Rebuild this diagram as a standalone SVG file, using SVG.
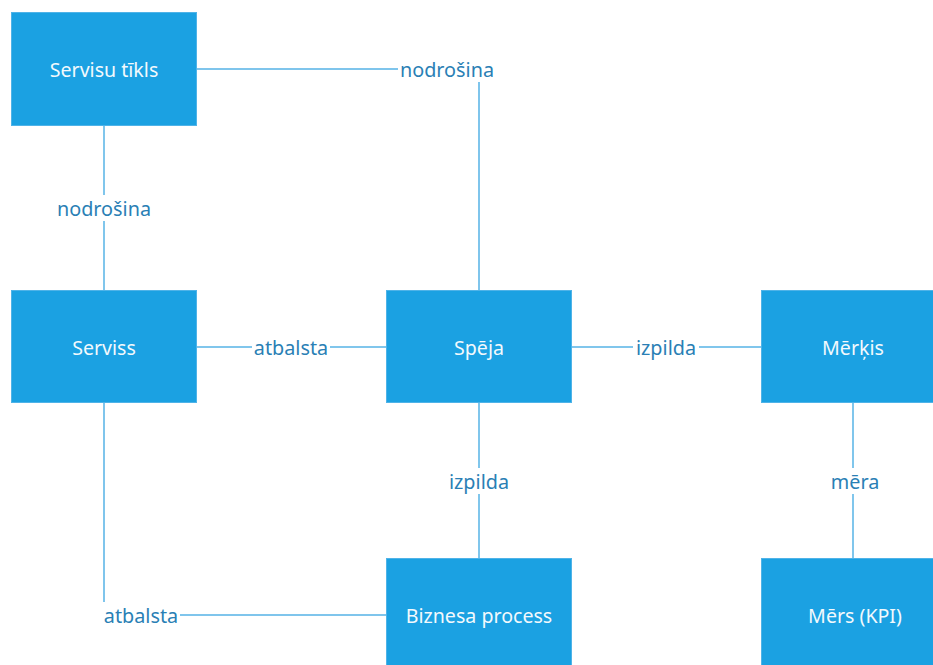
<svg xmlns="http://www.w3.org/2000/svg" width="933" height="665" viewBox="0 0 933 665">
<style>
.box{fill:#1ba1e2;stroke:#4fb3e8;stroke-width:1}
.bt{font-family:"Noto Sans","Open Sans",sans-serif;font-size:19.6px;fill:#f2f9fd;text-anchor:middle;dominant-baseline:central}
.ln{fill:none;stroke:#56b3e6;stroke-width:1.5}
.lb{font-family:"Noto Sans","Open Sans",sans-serif;font-size:19.8px;fill:#2a7fb5;text-anchor:middle;dominant-baseline:central}
.bg{fill:#ffffff}
</style>
<rect width="933" height="665" fill="#ffffff"/>
<g id="connectors">
<path class="ln" d="M197,69 H479 V290"/>
<path class="ln" d="M104,125 V290"/>
<path class="ln" d="M197,347 H386"/>
<path class="ln" d="M572,347 H761"/>
<path class="ln" d="M479,403 V558"/>
<path class="ln" d="M853,403 V558"/>
<path class="ln" d="M104,403 V615 H386"/>
<rect class="bg" x="398" y="56" width="98" height="26"/>
<text class="lb" x="447" y="69">nodrošina</text>
<rect class="bg" x="56" y="195" width="96" height="26"/>
<text class="lb" x="104" y="208">nodrošina</text>
<rect class="bg" x="252" y="334" width="78" height="26"/>
<text class="lb" x="291" y="347">atbalsta</text>
<rect class="bg" x="633" y="334" width="66" height="26"/>
<text class="lb" x="666" y="347">izpilda</text>
<rect class="bg" x="446" y="468" width="66" height="26"/>
<text class="lb" x="479" y="481">izpilda</text>
<rect class="bg" x="826" y="468" width="58" height="26"/>
<text class="lb" x="855" y="481">mēra</text>
<rect class="bg" x="103" y="602" width="77" height="26"/>
<text class="lb" x="141" y="615">atbalsta</text>
</g>
<g id="servisu-tikls"><rect class="box" x="11.5" y="12.5" width="185" height="113"/><text class="bt" x="104" y="69">Servisu tīkls</text></g>
<g id="serviss"><rect class="box" x="11.5" y="290.5" width="185" height="112"/><text class="bt" x="104" y="347">Serviss</text></g>
<g id="speja"><rect class="box" x="386.5" y="290.5" width="185" height="112"/><text class="bt" x="479" y="347">Spēja</text></g>
<g id="merkis"><rect class="box" x="761.5" y="290.5" width="185" height="112"/><text class="bt" x="853" y="347">Mērķis</text></g>
<g id="biznesa-process"><rect class="box" x="386.5" y="558.5" width="185" height="112"/><text class="bt" x="479" y="615">Biznesa process</text></g>
<g id="mers-kpi"><rect class="box" x="761.5" y="558.5" width="185" height="112"/><text class="bt" x="855" y="615">Mērs (KPI)</text></g>
</svg>
